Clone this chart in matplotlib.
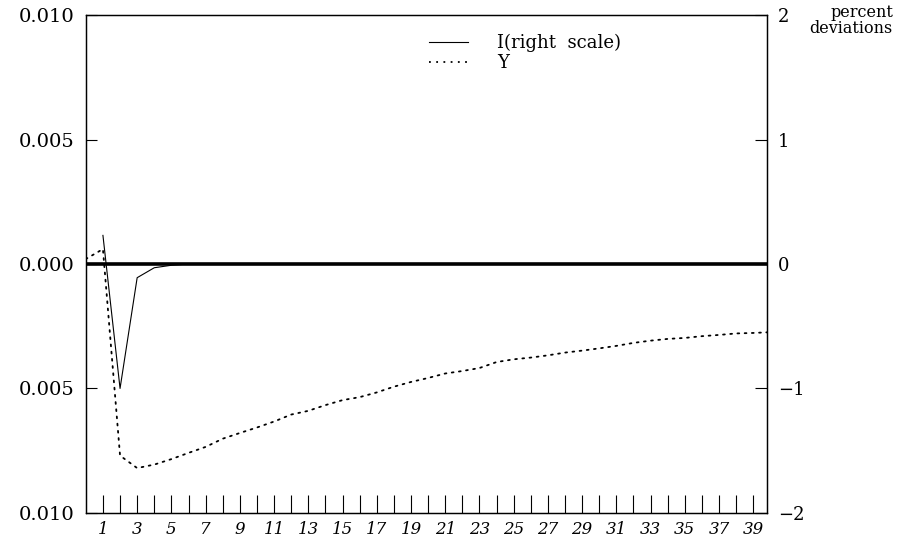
import matplotlib
matplotlib.use("Agg")
import matplotlib.pyplot as plt
from matplotlib.lines import Line2D

#-----------------DATA-----------------

# periods and responses
periods_y = list(range(0, 41))
y_resp = [0.0002, 0.0006, -0.0077, -0.0082, -0.00806, -0.00784, -0.00759, -0.00735,
          -0.00702, -0.00679, -0.00657, -0.00633, -0.00605, -0.0059, -0.00567, -0.00547,
          -0.00535, -0.00516, -0.00493, -0.00474, -0.00458, -0.0044, -0.0043, -0.00418,
          -0.00394, -0.00383, -0.00376, -0.00367, -0.00356, -0.00348, -0.00339, -0.00329,
          -0.00317, -0.00308, -0.00301, -0.00297, -0.0029, -0.00285, -0.00279, -0.00277,
          -0.00274]

periods_i = list(range(1, 41))
i_resp = [0.23, -1.0, -0.11, -0.03, -0.01] + [0.0] * 35

left_ticks = [-0.010, -0.005, 0.0, 0.005, 0.010]
left_labels = ['0.010', '0.005', '0.000', '0.005', '0.010']
right_ticks = [-2, -1, 0, 1, 2]
right_labels = ['\u22122', '\u22121', '0', '1', '2']
x_ticks = list(range(1, 40))
x_labels = [str(t) if t % 2 == 1 else '' for t in x_ticks]

#-----------------PLOT-----------------

plt.rcParams['font.family'] = ['DejaVu Serif']

fig = plt.figure(figsize=(9.13, 5.41), dpi=100)
ax = fig.add_axes([0.094, 0.052, 0.746, 0.920])
ax2 = ax.twinx()

# left scale: Y and the zero line
ax.axhline(0, color='black', lw=2.6, zorder=3)
ax.plot(periods_y, y_resp, color='black', lw=1.3, linestyle=(0, (1, 3)),
        dash_capstyle='round', zorder=4)
ax.set_xlim(0, 39.8)
ax.set_ylim(-0.010, 0.010)
ax.set_yticks(left_ticks)
ax.set_yticklabels(left_labels, fontsize=14)
ax.set_xticks(x_ticks)
ax.set_xticklabels(x_labels, fontsize=12, style='italic')
ax.tick_params(axis='x', direction='in', length=13, width=0.8, pad=6)
ax.tick_params(axis='y', direction='in', length=8, width=0.8, pad=8)

# right scale: I
ax2.plot(periods_i, i_resp, color='black', lw=0.8, zorder=4)
ax2.set_ylim(-2, 2)
ax2.set_yticks(right_ticks)
ax2.set_yticklabels(right_labels, fontsize=13)
ax2.tick_params(axis='y', direction='in', length=9, width=0.8, pad=8)

for a in (ax, ax2):
    for s in a.spines.values():
        s.set_linewidth(0.9)

fig.text(0.978, 0.992, 'percent\ndeviations', ha='right', va='top',
         fontsize=11.5, linespacing=0.9)

handles = [Line2D([], [], color='black', lw=0.8),
           Line2D([], [], color='black', lw=1.3, linestyle=(0, (1, 3)))]
ax2.legend(handles, ['I(right  scale)', 'Y'], loc='upper right',
           bbox_to_anchor=(0.81, 0.995), frameon=False, fontsize=13,
           handlelength=2.2, handletextpad=1.6, labelspacing=0.1,
           alignment='left')

fig.savefig('out.png', dpi=100)
